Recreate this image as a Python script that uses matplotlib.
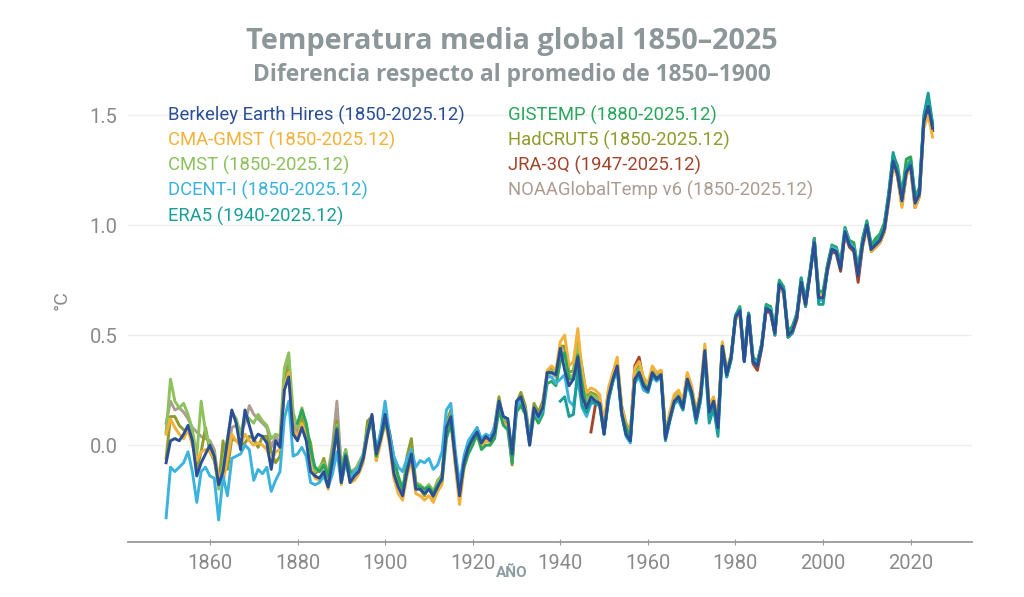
import matplotlib
matplotlib.use("Agg")
import matplotlib.pyplot as plt
import numpy as np

# ---------------- data (°C, relative to 1850-1900) ----------------
berkeley_start = 1850
berkeley = [
    -0.08, 0.02, 0.03, 0.02, 0.05, 0.09, 0.02, -0.14, -0.08, -0.04,
    0.00, -0.05, -0.18, -0.12, 0.02, 0.16, 0.10, -0.02, 0.16, 0.09,
    0.02, 0.05, 0.04, 0.01, -0.11, 0.02, -0.01, 0.25, 0.31, 0.05,
    0.02, 0.08, 0.02, -0.12, -0.14, -0.15, -0.12, -0.19, -0.07, 0.07,
    -0.17, -0.05, -0.17, -0.14, -0.12, -0.06, 0.05, 0.14, -0.04, 0.03,
    0.14, 0.02, -0.13, -0.19, -0.23, -0.12, -0.04, -0.20, -0.20, -0.22,
    -0.20, -0.23, -0.19, -0.15, 0.08, 0.13, -0.06, -0.23, -0.08, -0.01,
    0.03, 0.06, 0.01, 0.04, 0.02, 0.06, 0.20, 0.13, 0.12, -0.04,
    0.20, 0.22, 0.15, 0.00, 0.17, 0.13, 0.17, 0.33, 0.33, 0.32,
    0.44, 0.34, 0.27, 0.30, 0.40, 0.22, 0.17, 0.22, 0.20, 0.19,
    0.05, 0.22, 0.30, 0.36, 0.15, 0.05, 0.02, 0.30, 0.33, 0.27,
    0.25, 0.33, 0.30, 0.32, 0.03, 0.12, 0.20, 0.22, 0.17, 0.30,
    0.24, 0.12, 0.22, 0.43, 0.15, 0.20, 0.08, 0.45, 0.32, 0.40,
    0.58, 0.61, 0.38, 0.59, 0.38, 0.36, 0.45, 0.62, 0.61, 0.51,
    0.73, 0.70, 0.50, 0.52, 0.58, 0.74, 0.64, 0.77, 0.92, 0.67,
    0.67, 0.80, 0.89, 0.88, 0.80, 0.97, 0.91, 0.89, 0.77, 0.91,
    1.00, 0.89, 0.91, 0.93, 0.98, 1.12, 1.29, 1.23, 1.11, 1.24,
    1.27, 1.10, 1.14, 1.47, 1.54, 1.44,
]

cma_start = 1850
cma_gmst = [
    0.05, 0.12, 0.08, 0.05, 0.03, 0.07, 0.00, -0.07, -0.03, -0.02,
    -0.03, -0.06, -0.14, -0.17, -0.06, 0.05, 0.02, 0.00, 0.05, 0.02,
    0.00, 0.01, 0.00, -0.02, -0.08, -0.03, -0.02, 0.26, 0.33, 0.07,
    0.04, 0.10, 0.04, -0.10, -0.15, -0.16, -0.13, -0.20, -0.09, 0.06,
    -0.18, -0.07, -0.17, -0.16, -0.13, -0.08, 0.04, 0.12, -0.07, 0.01,
    0.11, 0.00, -0.15, -0.22, -0.25, -0.14, -0.07, -0.22, -0.23, -0.25,
    -0.23, -0.26, -0.21, -0.18, 0.05, 0.10, -0.09, -0.27, -0.11, -0.03,
    0.01, 0.04, -0.01, 0.02, 0.01, 0.05, 0.18, 0.10, 0.09, -0.07,
    0.18, 0.21, 0.16, 0.01, 0.16, 0.13, 0.17, 0.34, 0.36, 0.34,
    0.47, 0.50, 0.36, 0.38, 0.53, 0.33, 0.24, 0.26, 0.25, 0.23,
    0.10, 0.26, 0.33, 0.40, 0.18, 0.09, 0.05, 0.35, 0.38, 0.31,
    0.28, 0.36, 0.33, 0.34, 0.06, 0.15, 0.23, 0.25, 0.20, 0.33,
    0.27, 0.15, 0.25, 0.46, 0.18, 0.22, 0.11, 0.47, 0.34, 0.41,
    0.57, 0.60, 0.40, 0.60, 0.40, 0.37, 0.46, 0.63, 0.62, 0.51,
    0.72, 0.69, 0.50, 0.53, 0.58, 0.73, 0.64, 0.78, 0.92, 0.68,
    0.68, 0.81, 0.90, 0.90, 0.82, 0.96, 0.92, 0.91, 0.78, 0.90,
    0.99, 0.88, 0.90, 0.92, 0.97, 1.11, 1.27, 1.22, 1.08, 1.23,
    1.25, 1.08, 1.13, 1.44, 1.50, 1.40,
]

cmst_start = 1850
cmst = [
    0.06, 0.30, 0.20, 0.17, 0.19, 0.14, 0.07, -0.05, 0.20, 0.06,
    0.00, -0.04, -0.20, -0.09, 0.03, 0.15, 0.12, 0.05, 0.14, 0.12,
    0.10, 0.14, 0.11, 0.09, 0.03, 0.05, 0.04, 0.35, 0.42, 0.15,
    0.08, 0.17, 0.09, -0.04, -0.12, -0.10, -0.08, -0.15, -0.04, 0.09,
    -0.13, -0.02, -0.14, -0.12, -0.08, -0.04, 0.07, 0.13, -0.05, 0.04,
    0.13, 0.04, -0.10, -0.18, -0.21, -0.08, -0.02, -0.18, -0.18, -0.20,
    -0.18, -0.21, -0.16, -0.14, 0.09, 0.14, -0.05, -0.21, -0.07, 0.00,
    0.04, 0.07, 0.02, 0.04, 0.03, 0.08, 0.20, 0.12, 0.11, -0.04,
    0.18, 0.22, 0.16, 0.02, 0.17, 0.13, 0.17, 0.32, 0.34, 0.32,
    0.43, 0.42, 0.31, 0.32, 0.45, 0.30, 0.20, 0.23, 0.22, 0.21,
    0.08, 0.24, 0.31, 0.37, 0.17, 0.08, 0.05, 0.32, 0.35, 0.29,
    0.27, 0.34, 0.32, 0.33, 0.06, 0.14, 0.21, 0.23, 0.19, 0.31,
    0.25, 0.14, 0.23, 0.44, 0.17, 0.21, 0.10, 0.46, 0.33, 0.41,
    0.58, 0.61, 0.40, 0.59, 0.40, 0.38, 0.46, 0.63, 0.63, 0.53,
    0.74, 0.70, 0.52, 0.54, 0.59, 0.75, 0.66, 0.78, 0.93, 0.69,
    0.69, 0.82, 0.90, 0.90, 0.83, 0.98, 0.93, 0.92, 0.80, 0.93,
    1.01, 0.91, 0.93, 0.96, 1.01, 1.14, 1.31, 1.26, 1.14, 1.28,
    1.30, 1.13, 1.16, 1.48, 1.56, 1.45,
]

dcent_start = 1850
dcent_i = [
    -0.33, -0.10, -0.12, -0.10, -0.08, -0.03, -0.12, -0.26, -0.12, -0.10,
    -0.14, -0.15, -0.34, -0.14, -0.23, -0.06, -0.05, -0.04, 0.00, -0.02,
    -0.16, -0.11, -0.13, -0.10, -0.21, -0.16, -0.12, 0.12, 0.20, -0.05,
    -0.04, -0.01, -0.05, -0.17, -0.18, -0.17, -0.14, -0.19, -0.13, -0.03,
    -0.17, -0.08, -0.15, -0.12, -0.10, -0.05, 0.05, 0.13, -0.02, 0.06,
    0.20, 0.05, -0.05, -0.10, -0.12, -0.06, -0.02, -0.10, -0.07, -0.08,
    -0.06, -0.11, -0.09, -0.03, 0.16, 0.19, -0.02, -0.18, -0.05, 0.02,
    0.05, 0.08, 0.03, 0.05, 0.04, 0.08, 0.20, 0.13, 0.12, -0.03,
    0.17, 0.21, 0.16, 0.03, 0.16, 0.12, 0.16, 0.31, 0.31, 0.28,
    0.30, 0.32, 0.20, 0.18, 0.30, 0.17, 0.13, 0.19, 0.19, 0.18,
    0.05, 0.21, 0.29, 0.34, 0.14, 0.04, 0.01, 0.28, 0.31, 0.25,
    0.24, 0.31, 0.29, 0.31, 0.03, 0.11, 0.19, 0.20, 0.16, 0.28,
    0.22, 0.11, 0.20, 0.40, 0.12, 0.17, 0.06, 0.43, 0.31, 0.39,
    0.58, 0.62, 0.38, 0.60, 0.39, 0.37, 0.46, 0.63, 0.62, 0.52,
    0.74, 0.71, 0.50, 0.52, 0.59, 0.75, 0.64, 0.78, 0.93, 0.66,
    0.66, 0.80, 0.90, 0.89, 0.81, 0.98, 0.92, 0.90, 0.78, 0.92,
    1.01, 0.89, 0.92, 0.94, 0.99, 1.13, 1.30, 1.24, 1.12, 1.25,
    1.28, 1.11, 1.15, 1.48, 1.57, 1.45,
]

era5_start = 1940
era5 = [
    0.20, 0.22, 0.13, 0.14, 0.35, 0.18, 0.15, 0.20, 0.19, 0.18,
    0.05, 0.21, 0.29, 0.35, 0.14, 0.05, 0.02, 0.29, 0.32, 0.27,
    0.24, 0.32, 0.30, 0.31, 0.02, 0.11, 0.19, 0.21, 0.16, 0.29,
    0.22, 0.10, 0.20, 0.41, 0.10, 0.17, 0.04, 0.44, 0.31, 0.39,
    0.59, 0.62, 0.39, 0.60, 0.38, 0.36, 0.45, 0.63, 0.61, 0.50,
    0.74, 0.71, 0.49, 0.51, 0.59, 0.76, 0.63, 0.78, 0.93, 0.64,
    0.64, 0.80, 0.89, 0.88, 0.81, 0.97, 0.91, 0.89, 0.78, 0.92,
    1.01, 0.89, 0.92, 0.94, 0.99, 1.14, 1.33, 1.24, 1.12, 1.26,
    1.29, 1.12, 1.16, 1.50, 1.60, 1.46,
]

gistemp_start = 1880
gistemp = [
    0.10, 0.16, 0.10, -0.02, -0.10, -0.12, -0.09, -0.14, -0.05, 0.08,
    -0.13, -0.04, -0.12, -0.13, -0.10, -0.06, 0.06, 0.11, -0.05, 0.03,
    0.10, 0.06, -0.06, -0.14, -0.20, -0.10, -0.03, -0.18, -0.19, -0.20,
    -0.19, -0.22, -0.18, -0.16, 0.03, 0.10, -0.04, -0.20, -0.10, -0.04,
    0.00, 0.05, -0.02, 0.00, 0.00, 0.03, 0.16, 0.09, 0.07, -0.08,
    0.15, 0.18, 0.14, 0.00, 0.14, 0.10, 0.14, 0.28, 0.29, 0.27,
    0.38, 0.42, 0.30, 0.30, 0.41, 0.28, 0.16, 0.20, 0.19, 0.18,
    0.07, 0.20, 0.29, 0.35, 0.14, 0.08, 0.04, 0.29, 0.33, 0.28,
    0.25, 0.32, 0.30, 0.32, 0.06, 0.12, 0.19, 0.22, 0.18, 0.30,
    0.24, 0.14, 0.22, 0.42, 0.16, 0.19, 0.10, 0.45, 0.33, 0.40,
    0.59, 0.63, 0.39, 0.60, 0.40, 0.38, 0.46, 0.64, 0.63, 0.53,
    0.75, 0.72, 0.52, 0.54, 0.60, 0.76, 0.66, 0.79, 0.94, 0.70,
    0.70, 0.82, 0.91, 0.90, 0.83, 0.99, 0.93, 0.92, 0.80, 0.94,
    1.02, 0.91, 0.94, 0.96, 1.01, 1.15, 1.32, 1.27, 1.14, 1.30,
    1.31, 1.13, 1.17, 1.48, 1.57, 1.46,
]

hadcrut_start = 1850
hadcrut5 = [
    -0.06, 0.13, 0.13, 0.09, 0.07, 0.06, 0.04, -0.11, -0.03, 0.08,
    -0.03, -0.07, -0.18, 0.02, -0.11, 0.03, 0.02, 0.00, 0.01, 0.04,
    0.03, -0.01, 0.04, 0.04, -0.03, -0.08, -0.05, 0.28, 0.36, 0.05,
    0.04, 0.13, 0.07, 0.01, -0.13, -0.11, -0.06, -0.14, -0.03, 0.11,
    -0.15, -0.04, -0.15, -0.13, -0.08, -0.06, 0.11, 0.13, -0.07, 0.06,
    0.14, 0.06, -0.07, -0.17, -0.23, -0.05, 0.03, -0.17, -0.20, -0.23,
    -0.19, -0.24, -0.16, -0.14, 0.10, 0.16, -0.08, -0.24, -0.09, 0.00,
    0.04, 0.08, 0.00, 0.03, 0.02, 0.09, 0.22, 0.11, 0.10, -0.09,
    0.19, 0.24, 0.18, 0.04, 0.19, 0.15, 0.20, 0.33, 0.35, 0.32,
    0.45, 0.45, 0.33, 0.34, 0.47, 0.35, 0.22, 0.24, 0.23, 0.21,
    0.09, 0.25, 0.32, 0.38, 0.18, 0.10, 0.06, 0.33, 0.36, 0.30,
    0.27, 0.34, 0.32, 0.34, 0.06, 0.14, 0.21, 0.23, 0.19, 0.32,
    0.25, 0.15, 0.24, 0.44, 0.17, 0.21, 0.10, 0.46, 0.34, 0.41,
    0.58, 0.61, 0.40, 0.60, 0.39, 0.37, 0.46, 0.62, 0.62, 0.52,
    0.73, 0.70, 0.51, 0.53, 0.58, 0.74, 0.65, 0.78, 0.92, 0.69,
    0.68, 0.81, 0.89, 0.89, 0.81, 0.97, 0.91, 0.90, 0.78, 0.91,
    1.00, 0.89, 0.91, 0.94, 0.99, 1.13, 1.29, 1.24, 1.12, 1.26,
    1.28, 1.11, 1.15, 1.46, 1.53, 1.43,
]

jra_start = 1947
jra3q = [
    0.06, 0.18, 0.20,
    0.06, 0.23, 0.31, 0.37, 0.16, 0.06, 0.04, 0.36, 0.40, 0.29,
    0.27, 0.34, 0.31, 0.33, 0.04, 0.13, 0.21, 0.22, 0.18, 0.31,
    0.24, 0.13, 0.22, 0.43, 0.15, 0.19, 0.08, 0.45, 0.32, 0.39,
    0.57, 0.60, 0.38, 0.58, 0.37, 0.34, 0.44, 0.61, 0.60, 0.50,
    0.72, 0.69, 0.49, 0.51, 0.57, 0.73, 0.63, 0.77, 0.94, 0.66,
    0.66, 0.79, 0.88, 0.87, 0.79, 0.96, 0.90, 0.88, 0.74, 0.90,
    0.99, 0.88, 0.90, 0.92, 0.97, 1.11, 1.28, 1.22, 1.09, 1.23,
    1.26, 1.08, 1.13, 1.46, 1.53, 1.43,
]

noaa_start = 1850
noaa_v6 = [
    0.10, 0.20, 0.16, 0.17, 0.15, 0.12, 0.08, 0.06, 0.04, 0.03,
    0.02, -0.02, -0.16, -0.06, -0.04, 0.08, 0.09, 0.06, 0.10, 0.18,
    0.14, 0.12, 0.10, 0.08, -0.01, 0.04, 0.01, 0.30, 0.38, 0.10,
    0.06, 0.12, 0.05, -0.05, -0.10, -0.12, -0.10, -0.12, 0.00, 0.20,
    -0.10, -0.02, -0.12, -0.11, -0.09, -0.04, 0.08, 0.13, -0.04, 0.05,
    0.12, 0.04, -0.09, -0.16, -0.20, -0.08, -0.02, -0.17, -0.18, -0.20,
    -0.18, -0.21, -0.17, -0.13, 0.08, 0.14, -0.05, -0.22, -0.08, 0.00,
    0.03, 0.06, 0.01, 0.03, 0.02, 0.07, 0.19, 0.11, 0.10, -0.05,
    0.17, 0.20, 0.15, 0.02, 0.15, 0.12, 0.16, 0.31, 0.33, 0.31,
    0.44, 0.44, 0.31, 0.32, 0.45, 0.32, 0.20, 0.22, 0.21, 0.20,
    0.07, 0.23, 0.31, 0.37, 0.16, 0.08, 0.04, 0.32, 0.35, 0.29,
    0.26, 0.33, 0.31, 0.33, 0.05, 0.13, 0.21, 0.23, 0.18, 0.31,
    0.25, 0.13, 0.23, 0.43, 0.16, 0.20, 0.09, 0.45, 0.33, 0.40,
    0.58, 0.61, 0.39, 0.59, 0.39, 0.37, 0.46, 0.62, 0.62, 0.51,
    0.73, 0.70, 0.51, 0.53, 0.58, 0.74, 0.65, 0.78, 0.92, 0.68,
    0.68, 0.81, 0.89, 0.89, 0.81, 0.97, 0.91, 0.90, 0.78, 0.91,
    1.00, 0.89, 0.91, 0.93, 0.98, 1.13, 1.29, 1.23, 1.11, 1.25,
    1.27, 1.10, 1.14, 1.46, 1.53, 1.43,
]

series_labels = [
    "Berkeley Earth Hires (1850-2025.12)",
    "CMA-GMST (1850-2025.12)",
    "CMST (1850-2025.12)",
    "DCENT-I (1850-2025.12)",
    "ERA5 (1940-2025.12)",
    "GISTEMP (1880-2025.12)",
    "HadCRUT5 (1850-2025.12)",
    "JRA-3Q (1947-2025.12)",
    "NOAAGlobalTemp v6 (1850-2025.12)",
]
series_data = [berkeley, cma_gmst, cmst, dcent_i, era5, gistemp, hadcrut5, jra3q, noaa_v6]
series_starts = [berkeley_start, cma_start, cmst_start, dcent_start, era5_start,
                 gistemp_start, hadcrut_start, jra_start, noaa_start]
series_colors = ["#2b4f96", "#f2b23a", "#8cc15c", "#3bb3dc", "#1a9e98",
                 "#2aa65d", "#8e9b2e", "#a2452b", "#ab9d92"]

x_ticks = [1860, 1880, 1900, 1920, 1940, 1960, 1980, 2000, 2020]
y_ticks = [0.0, 0.5, 1.0, 1.5]

# ---------------- figure ----------------
W, H = 1024, 597
fig = plt.figure(figsize=(W / 100, H / 100), dpi=100)
fig.patch.set_facecolor("white")

narrow = ["Roboto", "DejaVu Sans"]
title_font = ["Open Sans", "DejaVu Sans"]

ax = fig.add_axes([128 / W, 1 - 542 / H, 844 / W, (542 - 90) / H])
ax.set_xlim(1841.3, 2034)
ax.set_ylim(-0.44, 1.614)

draw_order = [8, 6, 7, 2, 1, 5, 3, 4, 0]
for k, i in enumerate(draw_order):
    vals = series_data[i]
    yrs = np.arange(series_starts[i], series_starts[i] + len(vals))
    ax.plot(yrs, vals, color=series_colors[i], lw=2.1, solid_joinstyle="round",
            zorder=3 + k * 0.1)

ax.set_yticks(y_ticks)
ax.set_yticklabels([f"{v:.1f}" for v in y_ticks])
ax.set_xticks(x_ticks)
ax.set_xticklabels([str(v) for v in x_ticks])
ax.grid(axis="y", color="#eeeeee", lw=1.0, zorder=0)
ax.grid(axis="x", visible=False)
for s in ["top", "right", "left"]:
    ax.spines[s].set_visible(False)
ax.spines["bottom"].set_color("#9a9a9a")
ax.spines["bottom"].set_linewidth(1.3)
ax.tick_params(axis="y", length=0, pad=7.5, labelsize=14.5, labelcolor="#8a8a8a")
ax.tick_params(axis="x", length=5, direction="inout", color="#9a9a9a",
               pad=6, labelsize=14.5, labelcolor="#8a8a8a")
for lab in ax.get_xticklabels() + ax.get_yticklabels():
    lab.set_family(narrow)

# legend as coloured text
leg_pos = [(168, 115), (168, 140), (168, 165), (168, 190), (168, 216),
           (508, 115), (508, 140), (508, 165), (508, 190)]
for (px, py), lab, col in zip(leg_pos, series_labels, series_colors):
    fig.text(px / W, 1 - py / H, lab, color=col, fontsize=13.3, family=narrow,
             ha="left", va="center")

# titles
fig.text(0.5, 1 - 42 / H, "Temperatura media global 1850–2025", ha="center", va="center",
         fontsize=20.8, fontweight="bold", color="#8d979a", family=title_font)
fig.text(0.5, 1 - 75 / H, "Diferencia respecto al promedio de 1850–1900", ha="center",
         va="center", fontsize=16.4, fontweight="bold", color="#8d979a", family=title_font)

# axis labels
fig.text(62 / W, 1 - 300 / H, "°C", rotation=90, ha="center", va="center",
         fontsize=14, color="#8a8a8a", family=narrow)
fig.text(512 / W, 1 - 573 / H, "AÑO", ha="center", va="center",
         fontsize=11, fontweight="bold", color="#8b9ca3", family=narrow)

fig.savefig("out.png", dpi=100, facecolor="white")
